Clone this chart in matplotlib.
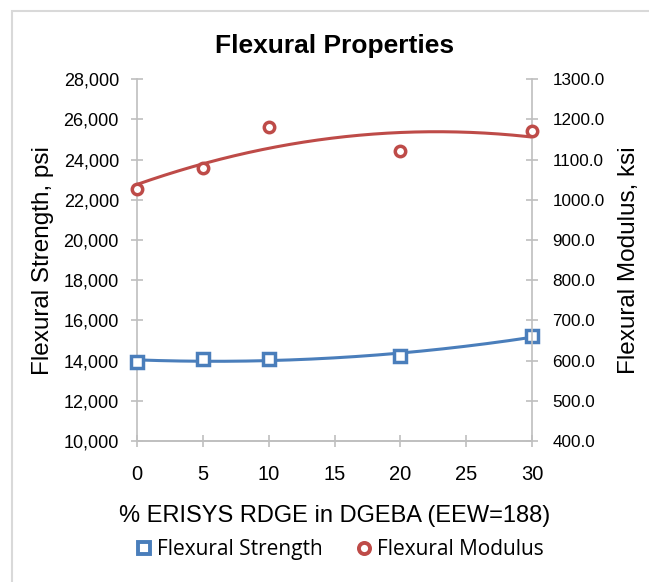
import matplotlib.pyplot as plt
import numpy as np
from matplotlib.lines import Line2D

# data
pct_rdge = [0, 5, 10, 20, 30]
flex_strength = [13950, 14080, 14080, 14240, 15220]   # psi
flex_modulus = [1027, 1079, 1181, 1121, 1171]         # ksi

blue = '#4a7ebb'
red = '#be4b48'
grid_gray = '#bfbfbf'

plt.rcParams['font.family'] = ['Liberation Sans', 'DejaVu Sans']

fig = plt.figure(figsize=(6.49, 5.82), dpi=100)
ax = fig.add_axes([0.211, 0.242, 0.609, 0.622])
ax2 = ax.twinx()

# poly order 2 trendlines, like the spreadsheet
xs = np.linspace(0, 30, 200)
cs = np.polyfit(pct_rdge, flex_strength, 2)
cm = np.polyfit(pct_rdge, flex_modulus, 2)
ax.plot(xs, np.polyval(cs, xs), color=blue, lw=2.2, zorder=2)
ax2.plot(xs, np.polyval(cm, xs), color=red, lw=2.2, zorder=2)

ax.plot(pct_rdge, flex_strength, ls='none', marker='s', ms=8, mfc='white',
        mec=blue, mew=2.5, zorder=3, clip_on=False)
ax2.plot(pct_rdge, flex_modulus, ls='none', marker='o', ms=7.5, mfc='white',
         mec=red, mew=2.5, zorder=3, clip_on=False)

ax.set_xlim(0, 30)
ax.set_ylim(10000, 28000)
ax2.set_ylim(400, 1300)
ax.set_xticks(range(0, 31, 5))
ax.set_yticks(range(10000, 28001, 2000))
ax2.set_yticks(range(400, 1301, 100))
ax.set_yticklabels([f'{v:,}' for v in range(10000, 28001, 2000)])
ax2.set_yticklabels([f'{v:.1f}' for v in range(400, 1301, 100)])

for a in (ax, ax2):
    a.spines['top'].set_visible(False)
    for s in ('left', 'right', 'bottom'):
        a.spines[s].set_color(grid_gray)
        a.spines[s].set_linewidth(1.2)
    a.tick_params(axis='both', direction='inout', length=9, width=1.2,
                  color=grid_gray)
ax2.spines['left'].set_visible(False)
ax.spines['right'].set_visible(False)
ax.tick_params(axis='y', labelsize=13, pad=8.5)
ax2.tick_params(axis='y', labelsize=12.3, pad=10)
ax.tick_params(axis='x', labelsize=14.5, pad=13)

ax.set_ylabel('Flexural Strength, psi', fontsize=17.5, labelpad=7)
ax2.set_ylabel('Flexural Modulus, ksi', fontsize=17.5, labelpad=10)
ax.set_xlabel('% ERISYS RDGE in DGEBA (EEW=188)', fontsize=17, labelpad=15)
fig.text(0.515, 0.921, 'Flexural Properties', ha='center', va='center',
         fontsize=19, fontweight='bold')

handles = [
    Line2D([], [], ls='none', marker='s', ms=8, mfc='white', mec=blue, mew=2.8),
    Line2D([], [], ls='none', marker='o', ms=8, mfc='white', mec=red, mew=2.8),
]
fig.legend(handles, ['Flexural Strength', 'Flexural Modulus'], loc='center',
           bbox_to_anchor=(0.522, 0.055), ncol=2, frameon=False, handletextpad=0.1,
           handlelength=1.0, columnspacing=1.5,
           prop={'family': 'Open Sans', 'size': 15})

# outer chart border
fig.patches.append(plt.Rectangle((0.0185, -0.01), 1.0, 0.991, transform=fig.transFigure,
                                 fill=False, ec='#d9d9d9', lw=1.5))

fig.savefig('out.png', dpi=100)
